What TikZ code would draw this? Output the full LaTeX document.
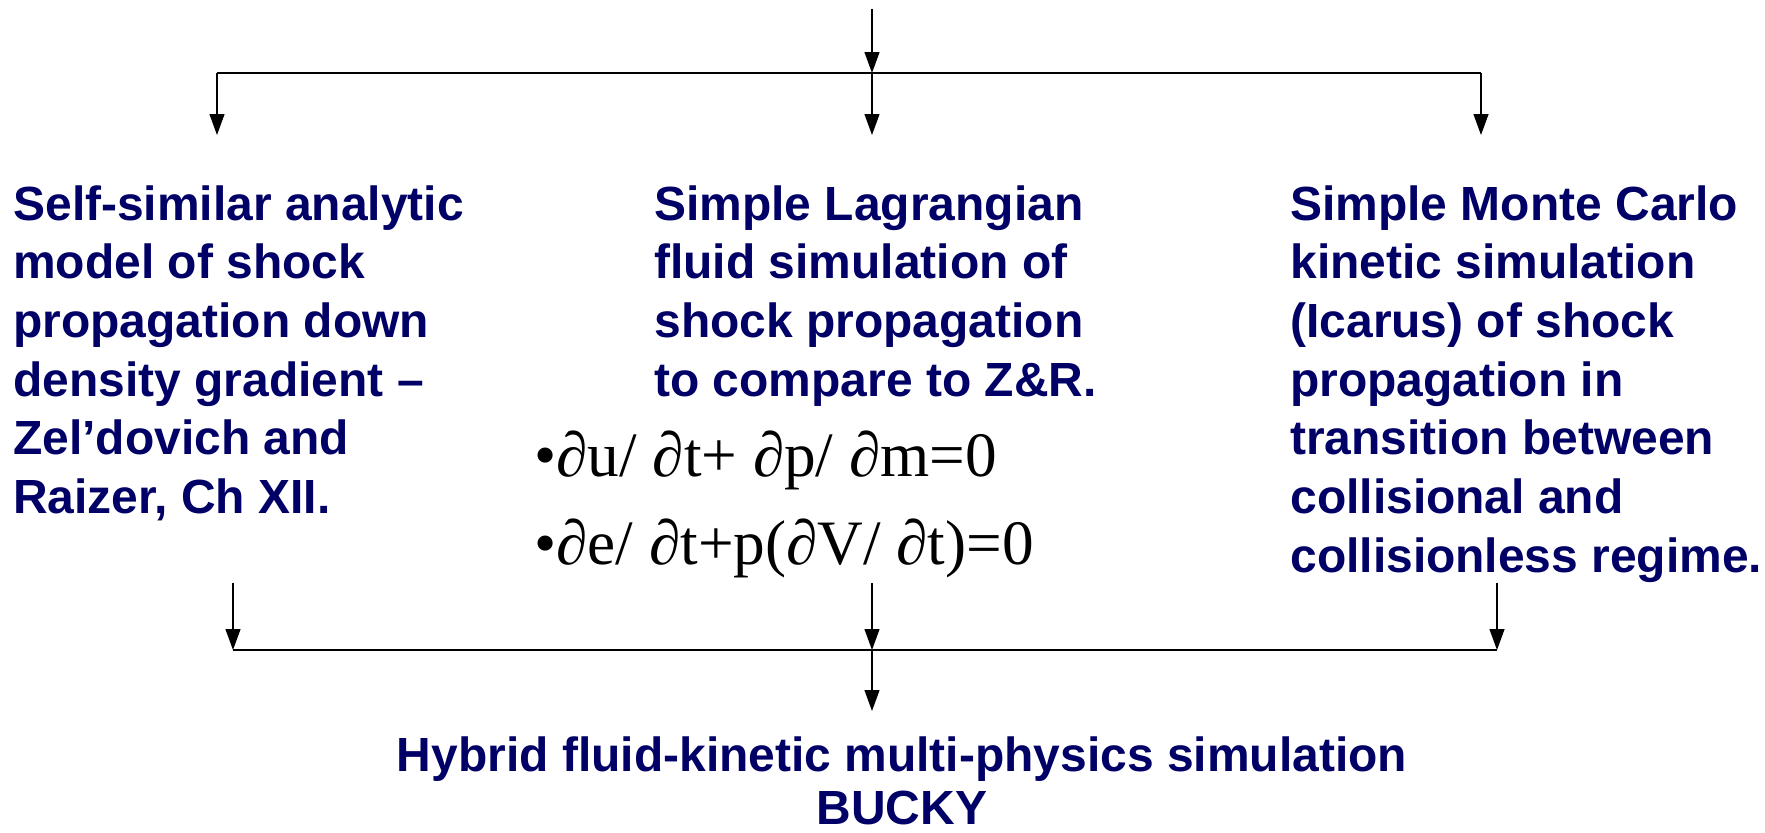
\documentclass[tikz,border=0pt]{standalone}
\usepackage{fontspec}
\setmainfont{Liberation Sans}
\newfontfamily\timesfont{Liberation Serif}
\usetikzlibrary{arrows.meta}
\definecolor{navy}{RGB}{0,0,102}
\newcommand{\pd}{{\itshape ∂}}

\begin{document}
\begin{tikzpicture}[x=0.02cm,y=-0.02cm,>={Triangle[length=0.42cm,width=0.3cm]},
  textblock/.style={inner sep=0pt,align=left,text=navy,font=\bfseries\fontsize{27.3}{33.4}\selectfont},
  eqline/.style={anchor=base west,inner sep=0pt,font=\timesfont\fontsize{36}{40}\selectfont},
  bar/.style={line width=1.2pt},
  feed/.style={->,line width=0.7pt}]
\useasboundingbox (0,0) rectangle (1765,832);
% junction points
\coordinate (top) at (872,9);
\coordinate (fanc) at (872,73);
\coordinate (fanl) at (217,73);
\coordinate (fanr) at (1481,73);
\coordinate (inl) at (217,135);
\coordinate (inc) at (872,135);
\coordinate (inr) at (1481,135);
\coordinate (outl) at (233,583);
\coordinate (outc) at (872,583);
\coordinate (outr) at (1497,583);
\coordinate (joinl) at (233,650);
\coordinate (joinc) at (872,650);
\coordinate (joinr) at (1497,650);
\coordinate (bucky) at (872,711);
% the three models
\node[textblock,anchor=north west] (analytic) at (13,185) {Self-similar analytic\\model of shock\\propagation down\\density gradient –\\Zel’dovich and\\Raizer, Ch XII.};
\node[textblock,anchor=north west] (fluid) at (654,185) {Simple Lagrangian\\fluid simulation of\\shock propagation\\to compare to Z\&R.};
\node[textblock,anchor=north west] (kinetic) at (1290,185) {Simple Monte Carlo\\kinetic simulation\\(Icarus) of shock\\propagation in\\transition between\\collisional and\\collisionless regime.};
\node[eqline] (momentum) at (534,476) {•\pd u/ \pd t+ \pd p/ \pd m=0};
\node[eqline] (energy) at (534,564) {•\pd e/ \pd t+p(\pd V/ \pd t)=0};
\node[textblock,align=center,anchor=north,font=\bfseries\fontsize{27.3}{30.5}\selectfont] (hybrid) at (902,736) {Hybrid fluid-kinetic multi-physics simulation\\BUCKY};
% fan out
\draw[feed] (top) -- (fanc);
\draw[bar] (fanl) -- (fanr);
\draw[feed] (fanl) -- (inl);
\draw[feed] (fanc) -- (inc);
\draw[feed] (fanr) -- (inr);
% fan in
\draw[feed] (outl) -- (joinl);
\draw[feed] (outc) -- (joinc);
\draw[feed] (outr) -- (joinr);
\draw[bar] (joinl) -- (joinr);
\draw[feed] (joinc) -- (bucky);
\end{tikzpicture}
\end{document}
